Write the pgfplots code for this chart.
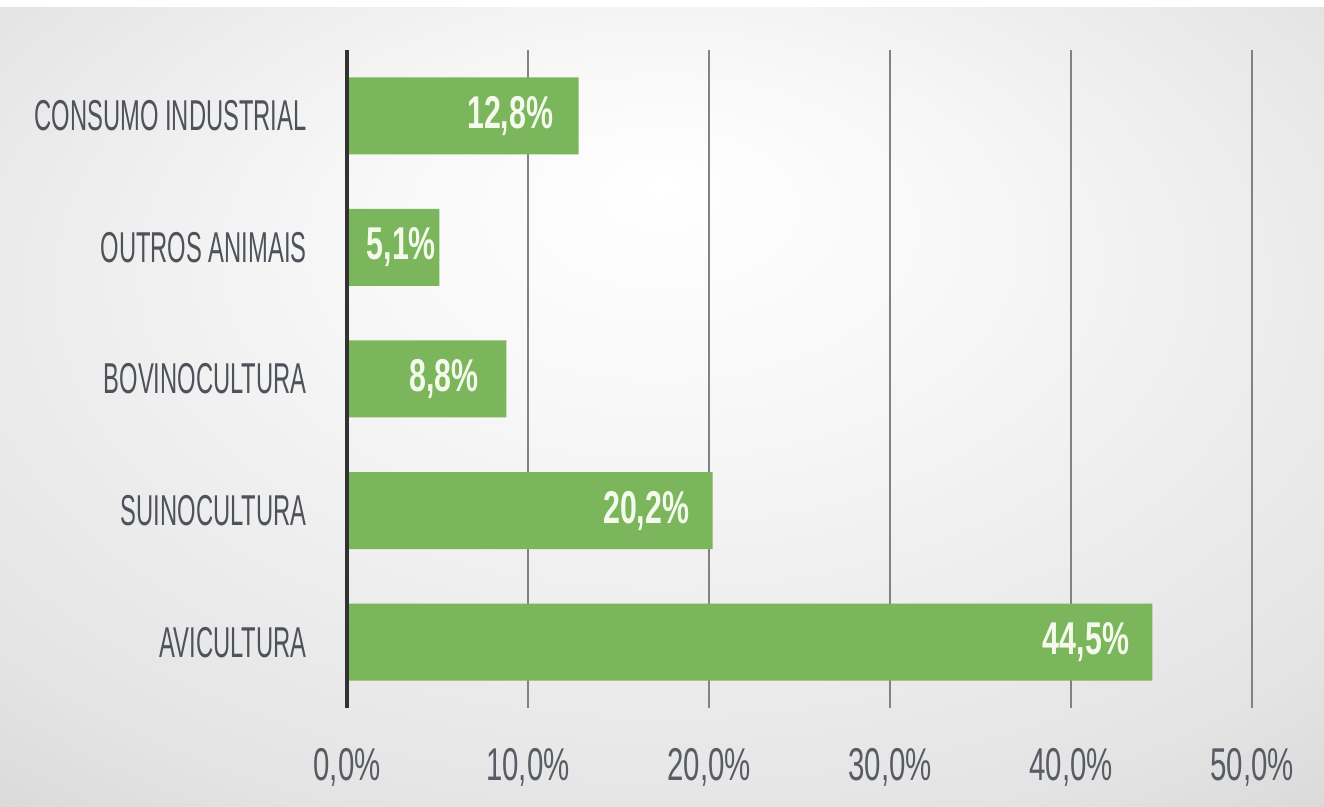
\documentclass[border=0pt]{standalone}
\usepackage{pgfplots}
\pgfplotsset{compat=1.18}
\usepackage{pgfplotstable}
\usepackage{fontspec}
\setmainfont{Liberation Sans}[FakeStretch=0.55]
\newfontfamily\tickfont{Liberation Sans}[FakeStretch=0.64]
\newfontfamily\barfont{Liberation Sans}[FakeStretch=0.66]
\definecolor{barc}{RGB}{123,181,92}
\definecolor{barlab}{RGB}{244,251,236}
\definecolor{labc}{RGB}{78,82,90}
\definecolor{tickc}{RGB}{88,92,100}
\definecolor{gridc}{RGB}{130,130,130}
\definecolor{axisc}{RGB}{50,50,50}
\definecolor{bgA}{RGB}{247,247,247}
\definecolor{bgB}{RGB}{228,228,228}
\definecolor{bgC}{RGB}{198,198,198}
\pgfdeclareradialshading{bgshade}{\pgfpoint{0bp}{14bp}}{color(0bp)=(white); color(12bp)=(bgA); color(32bp)=(bgB); color(50bp)=(bgC)}
\pgfplotstableread{
y x s
0 44.5 -11.5
1 20.2 -11.5
2 8.8 -13.5
3 5.1 -1.5
4 12.8 -12.5
}\datatable
\begin{document}
\begin{tikzpicture}
\useasboundingbox (0,0) rectangle (662pt,403.5pt);
\fill[white] (0,0) rectangle (662pt,403.5pt);
\shade[shading=bgshade] (0,0) rectangle (662pt,399.5pt);
\begin{axis}[
  at={(173.5pt,49.5pt)}, anchor=south west,
  scale only axis, width=470.6pt, height=329pt,
  xmin=0, xmax=52, ymin=-0.5, ymax=4.5,
  clip=false,
  axis line style={draw=none},
  major tick length=0pt,
  xtick={0,10,20,30,40,50},
  xticklabels={{0,0\%},{10,0\%},{20,0\%},{30,0\%},{40,0\%},{50,0\%}},
  ytick={0,1,2,3,4},
  yticklabels={AVICULTURA,SUINOCULTURA,BOVINOCULTURA,OUTROS ANIMAIS,CONSUMO INDUSTRIAL},
  xmajorgrids, grid style={gridc, line width=0.75pt},
  xticklabel style={anchor=center, inner sep=0pt, yshift=-29.5pt, text=tickc, font=\tickfont\fontsize{23}{23}\selectfont},
  yticklabel style={anchor=east, inner sep=0pt, xshift=-20pt, text=labc, font=\fontsize{21.6}{21.6}\selectfont},
  bar width=38.5pt,
]
\addplot[xbar, fill=barc, draw=none, point meta=x,
  visualization depends on={\thisrow{s} \as \sh},
  nodes near coords={\pgfmathprintnumber[fixed,fixed zerofill,precision=1,use comma,assume math mode=true]{\pgfplotspointmeta}\%},
  every node near coord/.append style={anchor=east, xshift=\sh pt, inner sep=0pt, text=barlab, font=\barfont\bfseries\fontsize{23}{23}\selectfont}]
  table[x=x,y=y] {\datatable};
\draw[line width=2pt, axisc] (axis cs:0,-0.5) -- (axis cs:0,4.5);
\end{axis}
\end{tikzpicture}
\end{document}
